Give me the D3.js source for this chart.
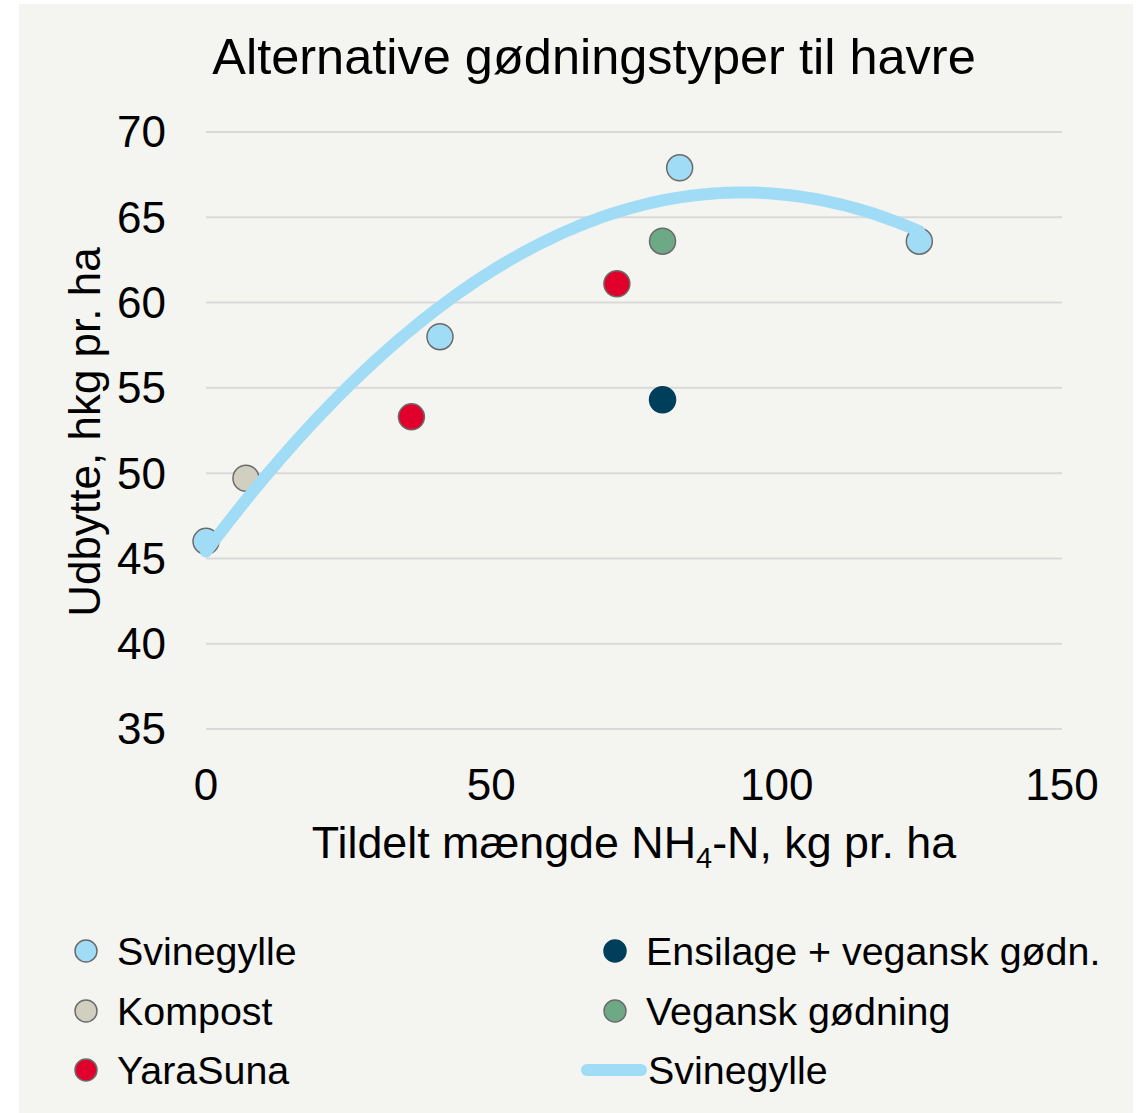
<!DOCTYPE html>
<html>
<head>
<meta charset="utf-8">
<script src="https://cdn.jsdelivr.net/npm/d3@7"></script>
<style>
  body { margin: 0; background: #fff; }
  svg { display: block; }
  text { font-family: "Liberation Sans", Arial, sans-serif; fill: #000; }
</style>
</head>
<body>
<div id="chart"></div>
<script>
var width = 1137;
var height = 1113;

// point series
var svinegylleX = [0, 41, 83, 125];
var svinegylleY = [46, 58, 67.9, 63.6];
var kompostX = [7];
var kompostY = [49.7];
var yaraX = [36, 72];
var yaraY = [53.3, 61.1];
var ensilageX = [80];
var ensilageY = [54.3];
var veganX = [80];
var veganY = [63.6];

var seriesNames = ["Svinegylle", "Kompost", "YaraSuna", "Ensilage + vegansk gødn.", "Vegansk gødning"];
var seriesColors = ["#a1dcf6", "#d1d0c0", "#e1002b", "#003f5c", "#6ea986"];
var trendName = "Svinegylle";

var xTicks = [0, 50, 100, 150];
var yTicks = [35, 40, 45, 50, 55, 60, 65, 70];

var series = [
  {name: seriesNames[0], color: seriesColors[0], xs: svinegylleX, ys: svinegylleY},
  {name: seriesNames[1], color: seriesColors[1], xs: kompostX, ys: kompostY},
  {name: seriesNames[2], color: seriesColors[2], xs: yaraX, ys: yaraY},
  {name: seriesNames[3], color: seriesColors[3], xs: ensilageX, ys: ensilageY},
  {name: seriesNames[4], color: seriesColors[4], xs: veganX, ys: veganY}
];

//2nd order polynomial trendline (least squares) through the Svinegylle points
function polyFit2(xs, ys) {
  let n = xs.length, s = [0, 0, 0, 0, 0], t = [0, 0, 0];
  for (let i = 0; i < n; i++) {
    for (let k = 0; k < 5; k++) s[k] += Math.pow(xs[i], k);
    for (let k = 0; k < 3; k++) t[k] += ys[i] * Math.pow(xs[i], k);
  }
  let m = [[s[0], s[1], s[2], t[0]], [s[1], s[2], s[3], t[1]], [s[2], s[3], s[4], t[2]]];
  for (let c = 0; c < 3; c++) {
    for (let r = c + 1; r < 3; r++) {
      let f = m[r][c] / m[c][c];
      for (let k = c; k < 4; k++) m[r][k] -= f * m[c][k];
    }
  }
  let coef = [0, 0, 0];
  for (let r = 2; r >= 0; r--) {
    let v = m[r][3];
    for (let k = r + 1; k < 3; k++) v -= m[r][k] * coef[k];
    coef[r] = v / m[r][r];
  }
  return coef;
}

var coef = polyFit2(svinegylleX, svinegylleY);
var trendData = d3.range(0, d3.max(svinegylleX) + 0.5, 1).map(function(x) {
  return {x: x, y: coef[0] + coef[1] * x + coef[2] * x * x};
});

var svg = d3.select("#chart").append("svg")
  .attr("width", width)
  .attr("height", height);

// panel background
svg.append("rect")
  .attr("x", 19).attr("y", 4)
  .attr("width", 1114).attr("height", height - 4)
  .attr("fill", "#f4f4f0");

var x = d3.scaleLinear().domain([0, 150]).range([206, 1062]);
var y = d3.scaleLinear().domain([35, 70]).range([729, 132]);

// gridlines
svg.append("g").selectAll("line")
  .data(yTicks)
  .enter().append("line")
  .attr("x1", x(0)).attr("x2", x(150))
  .attr("y1", function(d) { return y(d); })
  .attr("y2", function(d) { return y(d); })
  .attr("stroke", "#d9d9d9")
  .attr("stroke-width", 2);

// y tick labels
svg.append("g").selectAll("text")
  .data(yTicks)
  .enter().append("text")
  .attr("x", 166)
  .attr("y", function(d) { return y(d); })
  .attr("dy", "0.35em")
  .attr("text-anchor", "end")
  .style("font-size", "44px")
  .text(function(d) { return d; });

// x tick labels
svg.append("g").selectAll("text")
  .data(xTicks)
  .enter().append("text")
  .attr("x", function(d) { return x(d); })
  .attr("y", 800)
  .attr("text-anchor", "middle")
  .style("font-size", "44px")
  .text(function(d) { return d; });

// points
series.forEach(function(s) {
  svg.append("g").selectAll("circle")
    .data(s.xs.map(function(v, i) { return {x: v, y: s.ys[i]}; }))
    .enter().append("circle")
    .attr("cx", function(d) { return x(d.x); })
    .attr("cy", function(d) { return y(d.y); })
    .attr("r", 13)
    .attr("fill", s.color)
    .attr("stroke", s.name === seriesNames[3] ? s.color : "#6b6b6b")
    .attr("stroke-width", 1.5);
});

// trendline on top
var trendLine = d3.line()
  .x(function(d) { return x(d.x); })
  .y(function(d) { return y(d.y); });
svg.append("path")
  .datum(trendData)
  .attr("d", trendLine)
  .attr("fill", "none")
  .attr("stroke", seriesColors[0])
  .attr("stroke-width", 12)
  .attr("stroke-linecap", "round");

// title
svg.append("text")
  .attr("x", 594).attr("y", 74)
  .attr("text-anchor", "middle")
  .style("font-size", "50.5px")
  .text("Alternative gødningstyper til havre");

// axis titles
svg.append("text")
  .attr("transform", "translate(100, 432) rotate(-90)")
  .attr("text-anchor", "middle")
  .style("font-size", "44px")
  .text("Udbytte, hkg pr. ha");

var xt = svg.append("text")
  .attr("x", 634).attr("y", 858)
  .attr("text-anchor", "middle")
  .style("font-size", "44.8px");
xt.append("tspan").text("Tildelt mængde NH");
xt.append("tspan").attr("dy", 10).style("font-size", "29px").text("4");
xt.append("tspan").attr("dy", -10).text("-N, kg pr. ha");

// legend
var legendItems = [
  {name: seriesNames[0], color: seriesColors[0], col: 0, row: 0, type: "dot"},
  {name: seriesNames[1], color: seriesColors[1], col: 0, row: 1, type: "dot"},
  {name: seriesNames[2], color: seriesColors[2], col: 0, row: 2, type: "dot"},
  {name: seriesNames[3], color: seriesColors[3], col: 1, row: 0, type: "dot"},
  {name: seriesNames[4], color: seriesColors[4], col: 1, row: 1, type: "dot"},
  {name: trendName, color: seriesColors[0], col: 1, row: 2, type: "line"}
];
var colX = [86, 615];
var rowY = [951, 1011, 1070];

var leg = svg.append("g").selectAll("g")
  .data(legendItems)
  .enter().append("g")
  .attr("transform", function(d) { return "translate(" + colX[d.col] + "," + rowY[d.row] + ")"; });

leg.filter(function(d) { return d.type === "dot"; })
  .append("circle")
  .attr("r", 11)
  .attr("fill", function(d) { return d.color; })
  .attr("stroke", function(d) { return d.name === seriesNames[3] ? d.color : "#6b6b6b"; })
  .attr("stroke-width", 1.5);

leg.filter(function(d) { return d.type === "line"; })
  .append("line")
  .attr("x1", -28).attr("x2", 26)
  .attr("stroke", function(d) { return d.color; })
  .attr("stroke-width", 12)
  .attr("stroke-linecap", "round");

leg.append("text")
  .attr("x", function(d) { return d.type === "line" ? 33 : 31; })
  .attr("dy", "0.35em")
  .style("font-size", "39.4px")
  .text(function(d) { return d.name; });
</script>
</body>
</html>
